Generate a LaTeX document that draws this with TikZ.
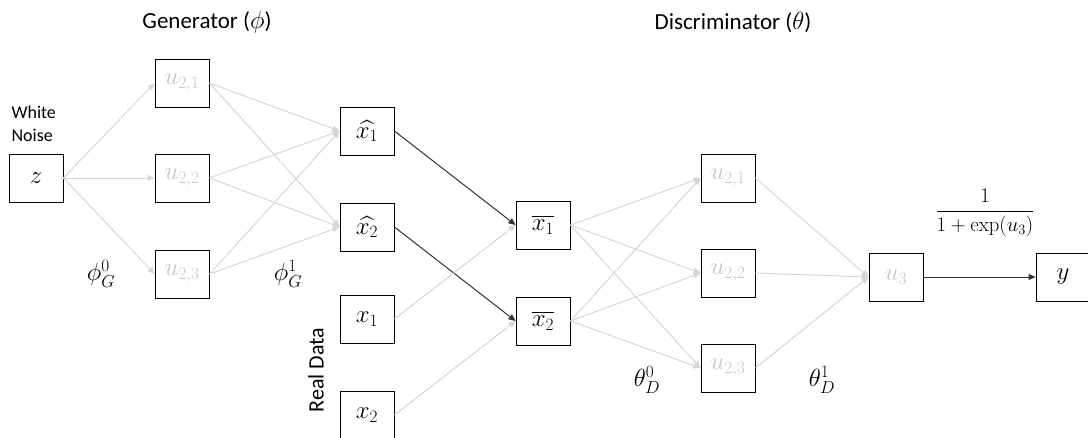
\documentclass[tikz,border=0pt]{standalone}
\usepackage{amsmath}
\usepackage[no-math]{fontspec}
\setmainfont{Carlito}
\usetikzlibrary{arrows.meta}
\begin{document}
\begin{tikzpicture}[x=1pt,y=-1pt,
  box/.style={draw=black, line width=0.9pt, minimum width=54pt, minimum height=48pt, inner sep=0pt, font=\fontsize{25}{30}\selectfont},
  hid/.style={box, text=black!22},
  garr/.style={draw=black!16, line width=1pt, -{Triangle[length=7pt,width=6pt]}},
  darr/.style={draw=black!80, line width=1pt, -{Triangle[length=7pt,width=6pt]}},
  title/.style={font=\fontsize{23}{27}\selectfont},
  wlbl/.style={font=\fontsize{25}{30}\selectfont}]
\useasboundingbox (0,0) rectangle (1088,437);
% generator
\node[box] (z) at (36,178) {$z$};
\node[hid] (g1) at (182,83) {$u_{2,1}$};
\node[hid] (g2) at (182,178) {$u_{2,2}$};
\node[hid] (g3) at (182,274) {$u_{2,3}$};
\node[box] (xh1) at (367,131) {$\widehat{x_1}$};
\node[box] (xh2) at (367,227) {$\widehat{x_2}$};
\node[box] (x1) at (367,319) {$x_1$};
\node[box] (x2) at (367,415) {$x_2$};
% discriminator
\node[box] (xb1) at (543,225) {$\overline{x_1}$};
\node[box] (xb2) at (543,321) {$\overline{x_2}$};
\node[hid] (d1) at (728,178) {$u_{2,1}$};
\node[hid] (d2) at (728,273) {$u_{2,2}$};
\node[hid] (d3) at (728,368) {$u_{2,3}$};
\node[hid] (u3) at (896,277) {$u_3$};
\node[box] (y) at (1063,277) {$y$};
% labels
\node[title] (tg) at (207,22) {Generator ($\phi$)};
\node[title] (td) at (733,22) {Discriminator ($\theta$)};
\node[font=\fontsize{18}{23}\selectfont, align=left, anchor=west] (wn) at (8,124) {White\\Noise};
\node[font=\fontsize{22}{26}\selectfont, rotate=90] (rd) at (316,370) {Real Data};
\node[wlbl] (p0) at (101,274) {$\phi_G^0$};
\node[wlbl] (p1) at (288,274) {$\phi_G^1$};
\node[wlbl] (t0) at (647,380) {$\theta_D^0$};
\node[wlbl] (t1) at (822,380) {$\theta_D^1$};
\node[font=\fontsize{21}{25}\selectfont] (fr) at (985,213) {$\dfrac{1}{1+\exp(u_3)}$};
% connectors
\foreach \g in {g1,g2,g3} \draw[garr] (z.east) -- (\g.west);
\foreach \g in {g1,g2,g3} {
  \draw[garr] (\g.east) -- (xh1.west);
  \draw[garr] (\g.east) -- (xh2.west);
}
\draw[darr] (xh1.east) -- (xb1.west);
\draw[darr] (xh2.east) -- (xb2.west);
\draw[garr] (x1.east) -- (xb1.west);
\draw[garr] (x2.east) -- (xb2.west);
\foreach \d in {d1,d2,d3} {
  \draw[garr] (xb1.east) -- (\d.west);
  \draw[garr] (xb2.east) -- (\d.west);
  \draw[garr] (\d.east) -- (u3.west);
}
\draw[darr] (u3.east) -- (y.west);
\end{tikzpicture}
\end{document}
